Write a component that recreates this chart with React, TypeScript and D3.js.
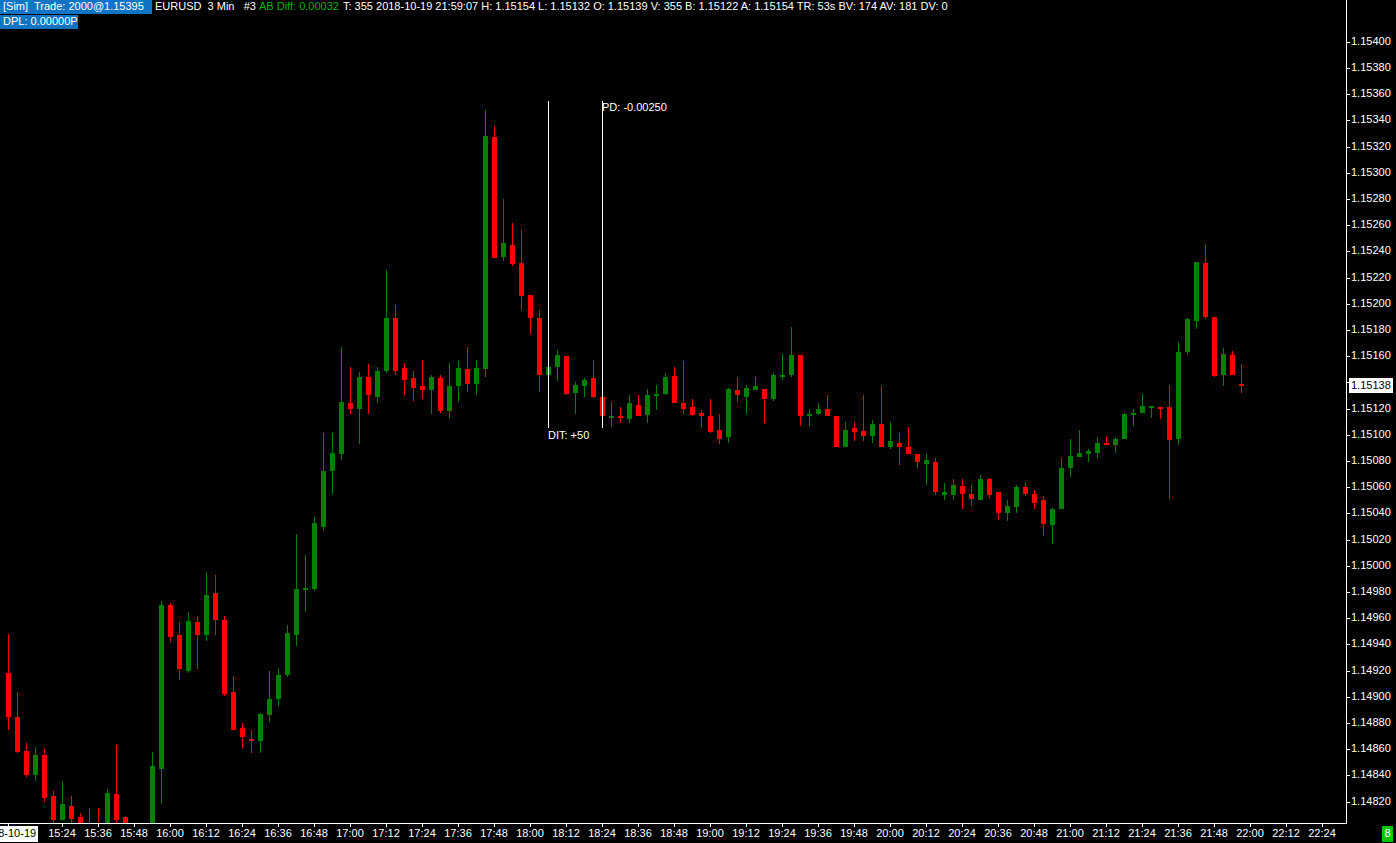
import React, { useEffect } from 'react';
import * as d3 from 'd3';

// ---- data (EURUSD 3 min bars, first bar 15:06) ----
const openP = [
  1.14918, 1.14885, 1.14859, 1.1484, 1.14856, 1.14824, 1.14806, 1.14817, 1.14808, 1.14788,
  1.14802, 1.14795, 1.14826, 1.14808, 1.14798, 1.14792, 1.14798, 1.14845, 1.1497, 1.14947,
  1.1492, 1.14957, 1.14947, 1.14979, 1.14959, 1.14904, 1.14876, 1.14868, 1.14866, 1.14886,
  1.14898, 1.14917, 1.14947, 1.14982, 1.14982, 1.1503, 1.15072, 1.15085, 1.15124, 1.1512,
  1.15144, 1.15129, 1.15149, 1.15189, 1.15151, 1.15143, 1.15137, 1.15134, 1.15143, 1.15118,
  1.15137, 1.1515, 1.15139, 1.1515, 1.15327, 1.15236, 1.15245, 1.15231, 1.15207, 1.15189,
  1.15146, 1.15152, 1.1516, 1.15132, 1.15137, 1.15143, 1.15129, 1.15113, 1.15114, 1.15112,
  1.15123, 1.15115, 1.1513, 1.15131, 1.15145, 1.15124, 1.15121, 1.15117, 1.15114, 1.15104,
  1.15098, 1.15134, 1.15129, 1.15134, 1.15135, 1.15127, 1.15145, 1.15146, 1.15161, 1.15114,
  1.15116, 1.1512, 1.15114, 1.15091, 1.15105, 1.15103, 1.15099, 1.15108, 1.15091, 1.15094,
  1.15091, 1.15085, 1.15078, 1.15079, 1.15054, 1.15054, 1.15061, 1.15055, 1.1505, 1.15066,
  1.15056, 1.1504, 1.15045, 1.1506, 1.15055, 1.1505, 1.15031, 1.15043, 1.15075, 1.15083,
  1.15085, 1.15086, 1.15094, 1.15092, 1.15097, 1.15116, 1.15117, 1.15121, 1.15121, 1.15121,
  1.15097, 1.15163, 1.15187, 1.15231, 1.1519, 1.15146, 1.15161, 1.15139,
];
const highP = [
  1.14948, 1.14904, 1.14865, 1.14862, 1.1486, 1.14828, 1.14836, 1.14824, 1.14811, 1.14815,
  1.14815, 1.1483, 1.14863, 1.14809, 1.14802, 1.14803, 1.14858, 1.14973, 1.14972, 1.14957,
  1.14965, 1.14962, 1.14995, 1.14993, 1.14962, 1.14916, 1.1488, 1.14875, 1.14888, 1.1492,
  1.14922, 1.14955, 1.15024, 1.15008, 1.15037, 1.15101, 1.15101, 1.15167, 1.15152, 1.15148,
  1.15154, 1.15152, 1.15226, 1.15199, 1.15155, 1.15149, 1.15157, 1.15146, 1.15146, 1.15155,
  1.15156, 1.15167, 1.15157, 1.15348, 1.15336, 1.1528, 1.15262, 1.15256, 1.15207, 1.15195,
  1.15152, 1.15165, 1.1516, 1.1514, 1.15143, 1.15157, 1.15129, 1.15125, 1.15121, 1.1513,
  1.1513, 1.15135, 1.15138, 1.15147, 1.15152, 1.15156, 1.15127, 1.15119, 1.15127, 1.15116,
  1.15136, 1.15144, 1.15138, 1.15144, 1.15135, 1.15147, 1.15162, 1.15182, 1.15161, 1.1512,
  1.15124, 1.1513, 1.15114, 1.1511, 1.1511, 1.1513, 1.15111, 1.15137, 1.1511, 1.15101,
  1.15106, 1.15085, 1.15085, 1.15082, 1.15063, 1.15066, 1.15066, 1.15062, 1.15069, 1.15067,
  1.15056, 1.1505, 1.15062, 1.15063, 1.15058, 1.15053, 1.15044, 1.15082, 1.15097, 1.15104,
  1.15089, 1.15098, 1.15098, 1.15098, 1.15117, 1.1512, 1.15131, 1.15122, 1.15121, 1.15138,
  1.15171, 1.15189, 1.15232, 1.15245, 1.1519, 1.15166, 1.15164, 1.15154,
];
const lowP = [
  1.14875, 1.14857, 1.14839, 1.14836, 1.1482, 1.14804, 1.14805, 1.14804, 1.1479, 1.14785,
  1.14786, 1.1479, 1.148, 1.14792, 1.14788, 1.14789, 1.14795, 1.14818, 1.14942, 1.14913,
  1.14918, 1.14921, 1.14943, 1.14947, 1.14901, 1.14875, 1.14861, 1.14857, 1.14857, 1.14881,
  1.14893, 1.14915, 1.14939, 1.14965, 1.14981, 1.15027, 1.15055, 1.15081, 1.15116, 1.15093,
  1.15116, 1.15124, 1.15147, 1.15146, 1.1513, 1.15126, 1.15127, 1.15116, 1.15117, 1.15113,
  1.15125, 1.15133, 1.1513, 1.15144, 1.15235, 1.15233, 1.15229, 1.15195, 1.15177, 1.15133,
  1.15146, 1.15141, 1.1513, 1.15116, 1.15129, 1.15128, 1.15114, 1.15106, 1.15109, 1.15109,
  1.15114, 1.15109, 1.15119, 1.1513, 1.15124, 1.15116, 1.15114, 1.15106, 1.15101, 1.15093,
  1.15094, 1.15125, 1.15116, 1.15134, 1.15109, 1.15126, 1.15142, 1.15144, 1.15107, 1.15107,
  1.15115, 1.15114, 1.15091, 1.15091, 1.15095, 1.15095, 1.15094, 1.15091, 1.15089, 1.15077,
  1.15085, 1.15075, 1.15062, 1.15054, 1.1505, 1.1505, 1.15043, 1.15046, 1.1505, 1.15052,
  1.15035, 1.15034, 1.1504, 1.15053, 1.15043, 1.15023, 1.15017, 1.15043, 1.15068, 1.15083,
  1.15079, 1.15082, 1.15092, 1.15086, 1.15097, 1.15107, 1.15117, 1.15113, 1.15112, 1.15051,
  1.15092, 1.15162, 1.15181, 1.15188, 1.15144, 1.15137, 1.15146, 1.15132,
];
const closeP = [
  1.14885, 1.14858, 1.1484, 1.14856, 1.14823, 1.14806, 1.14818, 1.14807, 1.14795, 1.148,
  1.1479, 1.14827, 1.14806, 1.14796, 1.14792, 1.148, 1.14847, 1.1497, 1.14946, 1.14921,
  1.14958, 1.14947, 1.14978, 1.14959, 1.14902, 1.14875, 1.14869, 1.14866, 1.14887, 1.14898,
  1.14917, 1.14949, 1.14982, 1.14983, 1.15033, 1.15072, 1.15086, 1.15125, 1.1512, 1.15144,
  1.1513, 1.15149, 1.15189, 1.15149, 1.15142, 1.15136, 1.15134, 1.15144, 1.15118, 1.15137,
  1.15151, 1.15139, 1.15151, 1.15328, 1.15235, 1.15246, 1.1523, 1.15206, 1.15189, 1.15146,
  1.15152, 1.15161, 1.15131, 1.15138, 1.15142, 1.15129, 1.15114, 1.15114, 1.15113, 1.15124,
  1.15114, 1.1513, 1.15131, 1.15144, 1.15124, 1.1512, 1.15115, 1.15114, 1.15102, 1.15097,
  1.15135, 1.1513, 1.15136, 1.15137, 1.15127, 1.15146, 1.15146, 1.15161, 1.15114, 1.15116,
  1.1512, 1.15114, 1.15091, 1.15104, 1.15102, 1.15099, 1.15108, 1.15091, 1.15095, 1.15091,
  1.15085, 1.15079, 1.15081, 1.15056, 1.15056, 1.15062, 1.15055, 1.15051, 1.15066, 1.15054,
  1.1504, 1.15046, 1.1506, 1.15055, 1.15048, 1.15032, 1.15043, 1.15075, 1.15084, 1.15086,
  1.15088, 1.15094, 1.15092, 1.15097, 1.15116, 1.15117, 1.15122, 1.15122, 1.1512, 1.15096,
  1.15163, 1.15188, 1.15232, 1.1519, 1.15145, 1.15162, 1.15146, 1.15138,
];

const firstBarMinutes = 15 * 60 + 6; // 15:06
const barMinutes = 3;
const dateLabel = '2018-10-19';
const timeLabels = [
  '15:24', '15:36', '15:48', '16:00', '16:12', '16:24', '16:36', '16:48', '17:00', '17:12',
  '17:24', '17:36', '17:48', '18:00', '18:12', '18:24', '18:36', '18:48', '19:00', '19:12',
  '19:24', '19:36', '19:48', '20:00', '20:12', '20:24', '20:36', '20:48', '21:00', '21:12',
  '21:24', '21:36', '21:48', '22:00', '22:12', '22:24',
];
const priceTicks = [
  1.1482, 1.1484, 1.1486, 1.1488, 1.149, 1.1492, 1.1494, 1.1496, 1.1498, 1.15,
  1.1502, 1.1504, 1.1506, 1.1508, 1.151, 1.1512, 1.1514, 1.1516, 1.1518, 1.152,
  1.1522, 1.1524, 1.1526, 1.1528, 1.153, 1.1532, 1.1534, 1.1536, 1.1538, 1.154,
];
const lastPrice = 1.15138;
const toolBars = [60, 66];
const toolPrices = [1.15355, 1.15105];
const toolLabels = ['DIT: +50', 'PD: -0.00250'];

const headerBlue = ['[Sim]  Trade: 2000@1.15395', 'DPL: 0.00000P'];
const headerWhite1 = 'EURUSD  3 Min   #3';
const headerGreen = 'AB Diff: 0.00032';
const headerWhite2 =
  'T: 355 2018-10-19 21:59:07 H: 1.15154 L: 1.15132 O: 1.15139 V: 355 B: 1.15122 A: 1.15154 TR: 53s BV: 174 AV: 181 DV: 0';

const W = 1396;
const H = 843;
const plotRight = 1346;
const plotBottom = 823;
const FONT = "'Liberation Sans', Arial, sans-serif";
const FS = 11;
const UP = '#008000';
const DOWN = '#ff0000';
const BLUE = '#0f74c4';

const toIndex = (t: string) => {
  const [h, m] = t.split(':').map(Number);
  return (h * 60 + m - firstBarMinutes) / barMinutes;
};

export default function App() {
  useEffect(() => {
    document.body.style.margin = '0';
    document.body.style.background = '#000';
    document.body.style.overflow = 'hidden';
  }, []);

  const x = d3.scaleLinear().domain([0, 1]).range([8, 17]);
  const y = d3.scaleLinear().domain([1.1482, 1.154]).range([801.7, 41.7]);
  const ry = (p: number) => Math.round(y(p));

  const yLast = ry(lastPrice);

  return (
    <svg width={W} height={H} style={{ position: 'absolute', left: 0, top: 0, background: '#000' }}
      fontFamily={FONT}>
      <rect x={0} y={0} width={W} height={H} fill="#000" />
      <defs>
        <clipPath id="plot">
          <rect x={0} y={0} width={plotRight} height={plotBottom} />
        </clipPath>
      </defs>

      {/* candles */}
      <g clipPath="url(#plot)">
        {openP.map((o, i) => {
          const c = closeP[i];
          const up = c >= o;
          const col = up ? UP : DOWN;
          const cx = Math.round(x(i));
          const top = ry(Math.max(o, c));
          const bot = ry(Math.min(o, c));
          return (
            <g key={i}>
              <line x1={cx + 0.5} x2={cx + 0.5} y1={ry(highP[i])} y2={ry(lowP[i])} stroke={col} strokeWidth={1} />
              <rect x={cx - 2} y={top} width={5} height={Math.max(bot - top, 2)} fill={col} />
            </g>
          );
        })}
      </g>

      {/* drawing tool */}
      {toolBars.map((b, k) => (
        <line key={k} x1={Math.round(x(b)) + 0.5} x2={Math.round(x(b)) + 0.5}
          y1={ry(toolPrices[0])} y2={ry(toolPrices[1])} stroke="#fff" strokeWidth={1} />
      ))}
      <text x={Math.round(x(toolBars[1]))} y={ry(toolPrices[0]) + 7} fill="#fff" fontSize={FS}
        dominantBaseline="middle">{toolLabels[1]}</text>
      <text x={Math.round(x(toolBars[0]))} y={ry(toolPrices[1]) + 8} fill="#fff" fontSize={FS}
        dominantBaseline="middle">{toolLabels[0]}</text>

      {/* axes frame */}
      <line x1={0} x2={plotRight + 1} y1={plotBottom + 0.5} y2={plotBottom + 0.5} stroke="#fff" />
      <line x1={plotRight + 0.5} x2={plotRight + 0.5} y1={0} y2={plotBottom + 1} stroke="#fff" />

      {/* price axis */}
      {priceTicks.map((p) => {
        const yy = ry(p);
        const hidden = Math.abs(yy - yLast) < 10;
        return (
          <g key={p}>
            <line x1={plotRight} x2={plotRight + 4} y1={yy + 0.5} y2={yy + 0.5} stroke="#fff" />
            {!hidden && (
              <text x={plotRight + 5} y={yy + 0.5} fill="#fff" fontSize={FS} dominantBaseline="middle">
                {p.toFixed(5)}
              </text>
            )}
          </g>
        );
      })}
      <rect x={plotRight + 3} y={yLast - 7} width={44} height={15} fill="#fff" />
      <text x={plotRight + 5} y={yLast + 1} fill="#000" fontSize={FS} dominantBaseline="middle">
        {lastPrice.toFixed(5)}
      </text>

      {/* time axis */}
      <rect x={-30} y={plotBottom + 3} width={68} height={16} fill="#fff" />
      <line x1={Math.round(x(0)) + 0.5} x2={Math.round(x(0)) + 0.5} y1={plotBottom} y2={plotBottom + 4} stroke="#fff" />
      <text x={Math.round(x(0))} y={plotBottom + 11.5} fill="#000" fontSize={FS} textAnchor="middle"
        dominantBaseline="middle">{dateLabel}</text>
      {timeLabels.map((t) => {
        const xx = Math.round(x(toIndex(t)));
        return (
          <g key={t}>
            <line x1={xx + 0.5} x2={xx + 0.5} y1={plotBottom} y2={plotBottom + 4} stroke="#fff" />
            <text x={xx} y={plotBottom + 11.5} fill="#fff" fontSize={FS} textAnchor="middle"
              dominantBaseline="middle">{t}</text>
          </g>
        );
      })}
      <rect x={1382} y={826} width={11} height={16} fill="#00c800" />
      <text x={1387.5} y={834.5} fill="#fff" fontSize={FS} textAnchor="middle" dominantBaseline="middle">8</text>

      {/* header */}
      <rect x={0} y={0} width={152} height={14} fill={BLUE} />
      <rect x={0} y={15} width={78} height={14} fill={BLUE} />
      <text x={3} y={7.5} fill="#fff" fontSize={FS} dominantBaseline="middle" style={{ whiteSpace: 'pre' }}>{headerBlue[0]}</text>
      <text x={3} y={22.5} fill="#fff" fontSize={FS} dominantBaseline="middle">{headerBlue[1]}</text>
      <text x={155} y={7.5} fill="#fff" fontSize={FS} dominantBaseline="middle" style={{ whiteSpace: 'pre' }}>{headerWhite1}</text>
      <text x={259} y={7.5} fill="#00b400" fontSize={FS} dominantBaseline="middle">{headerGreen}</text>
      <text x={343} y={7.5} fill="#fff" fontSize={FS} dominantBaseline="middle">{headerWhite2}</text>
    </svg>
  );
}
